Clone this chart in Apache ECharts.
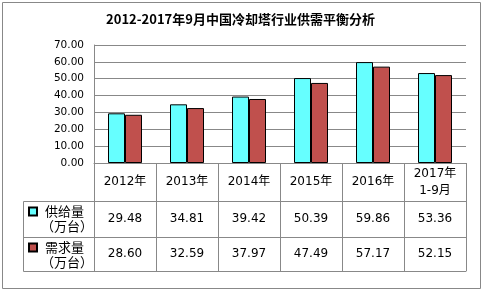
<!DOCTYPE html>
<html>
<head>
<meta charset="utf-8">
<script src="https://cdn.jsdelivr.net/npm/echarts@6/dist/echarts.min.js"></script>
<style>
html,body{margin:0;padding:0;background:#fff;}
#chart{width:481px;height:289px;}
</style>
</head>
<body>
<div id="chart"></div>
<script>
const titleText = '2012-2017年9月中国冷却塔行业供需平衡分析';
const categories = ['2012年', '2013年', '2014年', '2015年', '2016年', '2017年\n1-9月'];
const seriesNames = ['供给量', '需求量'];
const unitLabel = '（万台）';
const supply = [29.48, 34.81, 39.42, 50.39, 59.86, 53.36];
const demand = [28.60, 32.59, 37.97, 47.49, 57.17, 52.15];
const yTicks = { min: 0, max: 70, interval: 10 };

const numFont = 'DejaVu Sans, Verdana, sans-serif';
const cjkFont = 'DejaVu Sans, Noto Sans CJK SC, sans-serif';
const lineColor = '#888888';
const colors = ['#66FFFF', '#C0504D'];

const chart = echarts.init(document.getElementById('chart'), null, { renderer: 'canvas' });

function tableAxis(offset, tickLen, showLabel, labelFn, margin) {
  const label = {
    show: showLabel, interval: 0, margin: margin, verticalAlign: 'middle',
    color: '#000', fontSize: 12, fontFamily: cjkFont, lineHeight: 17
  };
  if (labelFn) label.formatter = labelFn;
  return {
    type: 'category',
    data: categories,
    position: 'bottom',
    offset: offset,
    boundaryGap: true,
    axisLine: { show: true, lineStyle: { color: lineColor, width: 1 } },
    axisTick: { show: tickLen > 0, length: tickLen, interval: 0, lineStyle: { color: lineColor } },
    axisLabel: label,
    splitLine: { show: false }
  };
}

const option = {
  animation: false,
  backgroundColor: '#fff',
  color: colors,
  title: {
    text: titleText,
    left: 'center',
    top: 8,
    textStyle: { fontSize: 13, fontWeight: 'bold', color: '#000', fontFamily: 'Noto Sans CJK SC, sans-serif' }
  },
  legend: [
    {
      data: [seriesNames[0]], left: 28, top: 205, padding: 0,
      itemWidth: 8, itemHeight: 8,
      textStyle: { fontSize: 13, color: '#000', fontFamily: 'Noto Sans CJK SC, sans-serif', padding: [0, 0, 0, 3] },
      icon: 'rect', selectedMode: false
    },
    {
      data: [seriesNames[1]], left: 28, top: 241, padding: 0,
      itemWidth: 8, itemHeight: 8,
      textStyle: { fontSize: 13, color: '#000', fontFamily: 'Noto Sans CJK SC, sans-serif', padding: [0, 0, 0, 3] },
      icon: 'rect', selectedMode: false
    }
  ],
  grid: { left: 94, right: 15, top: 45, bottom: 126, containLabel: false },
  xAxis: [
    tableAxis(0, 38, true, null, 19),
    tableAxis(38, 36, true, (v, i) => supply[i].toFixed(2), 18),
    tableAxis(74, 34, true, (v, i) => demand[i].toFixed(2), 17),
    tableAxis(108, 0, false, null, 0)
  ],
  yAxis: {
    type: 'value',
    min: yTicks.min, max: yTicks.max, interval: yTicks.interval,
    axisLine: { show: true, lineStyle: { color: lineColor } },
    axisTick: { show: false },
    axisLabel: { color: '#000', fontSize: 10.5, fontFamily: numFont, margin: 10, formatter: v => v.toFixed(2) },
    splitLine: { show: true, lineStyle: { color: lineColor, width: 1 } }
  },
  series: [
    {
      name: seriesNames[0], type: 'bar', data: supply, xAxisIndex: 0,
      barWidth: 17, barGap: '0%',
      itemStyle: { color: colors[0], borderColor: '#000', borderWidth: 1 }
    },
    {
      name: seriesNames[1], type: 'bar', data: demand, xAxisIndex: 0,
      barWidth: 17, barGap: '0%',
      itemStyle: { color: colors[1], borderColor: '#000', borderWidth: 1 }
    }
  ],
  graphic: [
    { type: 'rect', left: 0, top: 0, shape: { x: 0.5, y: 0.5, width: 478, height: 286 }, style: { fill: 'none', stroke: lineColor, lineWidth: 1 }, silent: true },
    { type: 'rect', shape: { x: 23.5, y: 201.5, width: 71, height: 70 }, style: { fill: 'none', stroke: lineColor, lineWidth: 1 }, silent: true },
    { type: 'line', shape: { x1: 23.5, y1: 237.5, x2: 94.5, y2: 237.5 }, style: { stroke: lineColor, lineWidth: 1 }, silent: true },
    { type: 'text', x: 41, y: 226, style: { text: unitLabel, fill: '#000', font: '13px "Noto Sans CJK SC"', verticalAlign: 'middle' }, silent: true },
    { type: 'text', x: 41, y: 262, style: { text: unitLabel, fill: '#000', font: '13px "Noto Sans CJK SC"', verticalAlign: 'middle' }, silent: true }
  ]
};
chart.setOption(option);
</script>
</body>
</html>
